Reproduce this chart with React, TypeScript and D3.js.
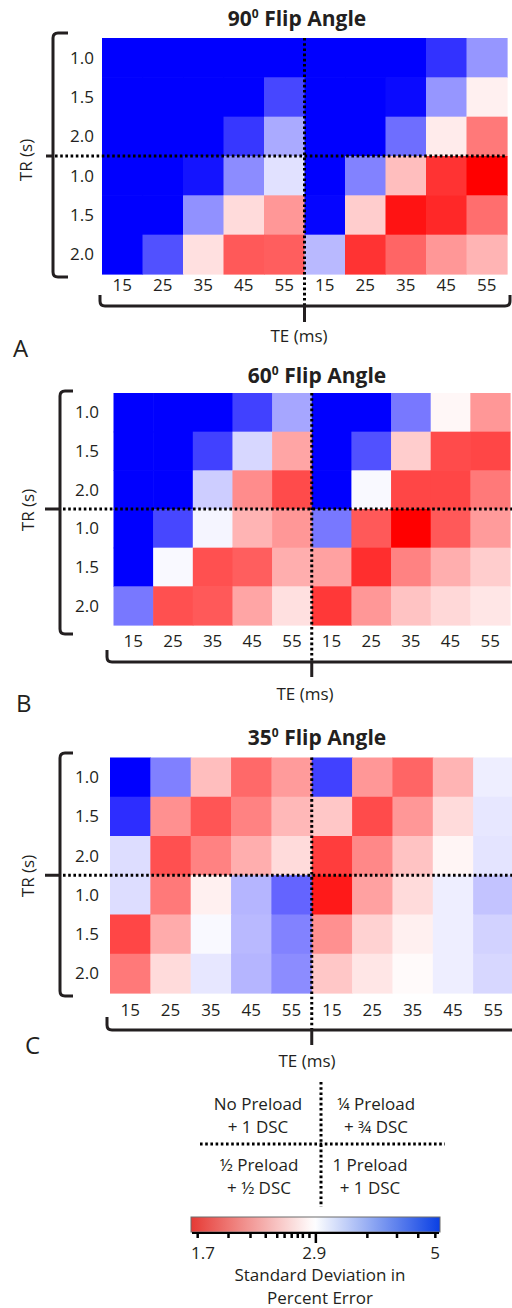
import React from "react";
import * as d3 from "d3";

// Axis categories
const TE_MS = [15, 25, 35, 45, 55];
const TR_S = ["1.0", "1.5", "2.0"];

// Standard deviation in percent error.
// Rows: TR 1.0 / 1.5 / 2.0 for the upper protocol pair, then TR 1.0 / 1.5 / 2.0 for the lower pair.
// Columns: TE 15..55 for the left protocol, then TE 15..55 for the right protocol.
const FLIP_90 = [
  [5.0, 5.0, 5.0, 5.0, 5.0, 5.0, 5.0, 5.0, 4.49, 3.63],
  [5.0, 5.0, 5.0, 5.0, 4.3, 5.0, 5.0, 4.89, 3.63, 2.81],
  [5.0, 5.0, 5.0, 4.45, 3.48, 5.0, 5.0, 3.95, 2.78, 2.19],
  [5.0, 5.0, 4.79, 3.71, 3.09, 5.0, 3.79, 2.53, 1.89, 1.7],
  [5.0, 5.0, 3.67, 2.69, 2.33, 4.95, 2.61, 1.77, 1.85, 2.14],
  [5.0, 4.21, 2.72, 2.05, 2.07, 3.37, 1.89, 2.1, 2.33, 2.48],
];

const FLIP_60 = [
  [5.0, 5.0, 5.0, 4.35, 3.51, 5.0, 5.0, 3.87, 2.85, 2.33],
  [5.0, 5.0, 4.35, 3.16, 2.4, 5.0, 4.21, 2.61, 1.99, 1.97],
  [5.0, 5.0, 3.23, 2.28, 1.99, 5.0, 2.94, 1.97, 1.97, 2.19],
  [5.0, 4.3, 2.96, 2.48, 2.33, 3.87, 2.05, 1.7, 2.05, 2.35],
  [5.0, 2.94, 2.01, 2.07, 2.45, 2.38, 1.87, 2.23, 2.45, 2.61],
  [3.87, 2.01, 2.05, 2.4, 2.72, 1.91, 2.33, 2.56, 2.67, 2.75],
];

const FLIP_35 = [
  [5.0, 3.8, 2.53, 2.12, 2.35, 4.35, 2.33, 2.1, 2.48, 3.01],
  [4.54, 2.3, 2.03, 2.23, 2.5, 2.58, 1.99, 2.33, 2.69, 3.05],
  [3.12, 2.01, 2.23, 2.45, 2.69, 1.93, 2.26, 2.56, 2.84, 3.07],
  [3.12, 2.19, 2.81, 3.4, 4.04, 1.79, 2.38, 2.69, 3.01, 3.3],
  [1.97, 2.43, 2.94, 3.37, 3.79, 2.3, 2.64, 2.81, 3.01, 3.19],
  [2.19, 2.69, 3.05, 3.4, 3.71, 2.58, 2.75, 2.87, 3.01, 3.16],
];

const FLIP_ANGLES = ["90", "60", "35"];
const PANEL_LETTERS = ["A", "B", "C"];
const PANEL_VALUES = [FLIP_90, FLIP_60, FLIP_35];

const QUADRANT_LABELS = [
  ["No Preload", "+ 1 DSC"],
  ["\u00BC Preload", "+ \u00BE DSC"],
  ["\u00BD Preload", "+ \u00BD DSC"],
  ["1 Preload", "+ 1 DSC"],
];

const SCALE_DOMAIN = [1.7, 2.9, 5];
const SCALE_TICKS = [1.75, 2.0, 2.2, 2.35, 2.47, 2.55, 2.63, 2.7, 2.76, 2.84, 3.65, 4.15, 4.55, 4.9];
const SCALE_MAJOR_TICK = 2.92;
const SCALE_LABELS = [1.7, 2.9, 5];
const SCALE_TITLE = ["Standard Deviation in", "Percent Error"];

// ---- layout ----
const W = 512;
const H = 1308;
const FONT = "'Open Sans', 'Noto Sans', sans-serif";
const INK = "#231f20";

const PANEL_LAYOUT = [
  {
    x0: 102, x1: 507, y0: 38, y1: 274,
    titleX: 297, titleY: 26, yLabelX: 94, xLabelY: 285,
    bx: 53, bTop: 33, bBottom: 277, serifX: 68, notchX: 46,
    hStart: 55, hEnd: 507,
    braceY: 306, braceLeft: 100, braceRight: 510, braceRise: 11, braceTickEnd: 322,
    teX: 299, teY: 336, trX: 26, trY: 160, letterX: 13, letterY: 357,
  },
  {
    x0: 113.5, x1: 510, y0: 393, y1: 625,
    titleX: 317, titleY: 383, yLabelX: 99, xLabelY: 641,
    bx: 60, bTop: 391, bBottom: 634, serifX: 73, notchX: 45,
    hStart: 63, hEnd: 512,
    braceY: 662, braceLeft: 107, braceRight: 540, braceRise: 12, braceTickEnd: 677,
    teX: 305, teY: 694, trX: 28, trY: 510, letterX: 16, letterY: 712,
  },
  {
    x0: 110, x1: 513.5, y0: 757.5, y1: 993,
    titleX: 317, titleY: 745, yLabelX: 99, xLabelY: 1010,
    bx: 60, bTop: 753, bBottom: 996, serifX: 73, notchX: 45,
    hStart: 63, hEnd: 512,
    braceY: 1030, braceLeft: 107, braceRight: 540, braceRise: 13, braceTickEnd: 1045,
    teX: 307, teY: 1061, trX: 28, trY: 876, letterX: 25, letterY: 1054,
  },
];

const DOT = { stroke: "#000", strokeWidth: 3, strokeDasharray: "2.6 2.6" };

// ---- colour ----
const halfInterp = (lo: string, mid: string, hi: string) => (t: number) =>
  t < 0.5 ? d3.interpolateRgb(lo, mid)(t * 2) : d3.interpolateRgb(mid, hi)((t - 0.5) * 2);

const cellColor = d3
  .scaleDivergingLog<string>()
  .domain(SCALE_DOMAIN)
  .interpolator(halfInterp("#ff0000", "#ffffff", "#0000ff"))
  .clamp(true);

const barColor = d3
  .scaleDivergingLog<string>()
  .domain(SCALE_DOMAIN)
  .interpolator(halfInterp("#e63a35", "#ffffff", "#0a3fe4"))
  .clamp(true);

const BAR = { x0: 191, x1: 440, y0: 1217, y1: 1232 };
const barPos = d3.scaleLog().domain([SCALE_DOMAIN[0], SCALE_DOMAIN[2]]).range([BAR.x0, BAR.x1]);

function Panel({ idx }: { idx: number }) {
  const L = PANEL_LAYOUT[idx];
  const values = PANEL_VALUES[idx];
  const cols = d3.range(TE_MS.length * 2);
  const rows = d3.range(TR_S.length * 2);
  const x = d3.scaleBand<number>().domain(cols).range([L.x0, L.x1]);
  const y = d3.scaleBand<number>().domain(rows).range([L.y0, L.y1]);
  const midX = x(TE_MS.length)!;
  const midY = y(TR_S.length)!;
  const r = 5;

  const leftBracket =
    `M${L.serifX},${L.bTop} H${L.bx + r} Q${L.bx},${L.bTop} ${L.bx},${L.bTop + r} ` +
    `V${L.bBottom - r} Q${L.bx},${L.bBottom} ${L.bx + r},${L.bBottom} H${L.serifX} ` +
    `M${L.bx},${midY} H${L.notchX}`;
  const bottomBrace =
    `M${L.braceLeft},${L.braceY - L.braceRise} V${L.braceY - r} Q${L.braceLeft},${L.braceY} ${L.braceLeft + r},${L.braceY} ` +
    `H${L.braceRight - r} Q${L.braceRight},${L.braceY} ${L.braceRight},${L.braceY - r} V${L.braceY - L.braceRise} ` +
    `M${midX},${L.braceY} V${L.braceTickEnd}`;

  return (
    <g>
      <text x={L.titleX} y={L.titleY} textAnchor="middle" fontWeight={700} fontSize={21} fill={INK}>
        <tspan>{FLIP_ANGLES[idx]}</tspan>
        <tspan fontSize={12} dy={-8}>0</tspan>
        <tspan dy={8}>{" Flip Angle"}</tspan>
      </text>

      {rows.map((ri) =>
        cols.map((ci) => (
          <rect
            key={`${ri}-${ci}`}
            x={x(ci)}
            y={y(ri)}
            width={x.bandwidth() + 0.6}
            height={y.bandwidth() + 0.6}
            fill={cellColor(values[ri][ci])}
          />
        ))
      )}

      {rows.map((ri) => (
        <text
          key={`tr${ri}`}
          x={L.yLabelX}
          y={y(ri)! + y.bandwidth() / 2}
          dy="0.36em"
          textAnchor="end"
          fontSize={17}
          fill={INK}
        >
          {TR_S[ri % TR_S.length]}
        </text>
      ))}

      {cols.map((ci) => (
        <text
          key={`te${ci}`}
          x={x(ci)! + x.bandwidth() / 2}
          y={L.xLabelY}
          dy="0.36em"
          textAnchor="middle"
          fontSize={17}
          fill={INK}
        >
          {TE_MS[ci % TE_MS.length]}
        </text>
      ))}

      <line x1={L.hStart} x2={L.hEnd} y1={midY} y2={midY} {...DOT} />
      <line x1={midX} x2={midX} y1={L.y0} y2={L.braceY} {...DOT} />

      <path d={leftBracket} fill="none" stroke={INK} strokeWidth={3} />
      <path d={bottomBrace} fill="none" stroke={INK} strokeWidth={3} />

      <text
        transform={`translate(${L.trX},${L.trY}) rotate(-90)`}
        dy="0.36em"
        textAnchor="middle"
        fontSize={17}
        fill={INK}
      >
        TR (s)
      </text>
      <text x={L.teX} y={L.teY} dy="0.36em" textAnchor="middle" fontSize={17} fill={INK}>
        TE (ms)
      </text>
      <text x={L.letterX} y={L.letterY} fontSize={24} fill={INK}>
        {PANEL_LETTERS[idx]}
      </text>
    </g>
  );
}

function Legend() {
  const cx = 321;
  const cy = 1144;
  const quadPos = [
    { x: 258, y: 1104 },
    { x: 376, y: 1104 },
    { x: 259, y: 1165 },
    { x: 370, y: 1165 },
  ];
  const stops = d3.range(0, 41).map((i) => {
    const t = i / 40;
    const v = barPos.invert(BAR.x0 + t * (BAR.x1 - BAR.x0));
    return { offset: t, color: barColor(v) };
  });
  return (
    <g>
      <line x1={cx} x2={cx} y1={1082} y2={1207} {...DOT} />
      <line x1={200} x2={445} y1={cy} y2={cy} {...DOT} />
      {QUADRANT_LABELS.map((lines, i) => (
        <text key={i} x={quadPos[i].x} y={quadPos[i].y} textAnchor="middle" fontSize={17} fill={INK}>
          <tspan x={quadPos[i].x} dy="0.36em">{lines[0]}</tspan>
          <tspan x={quadPos[i].x} dy={23}>{lines[1]}</tspan>
        </text>
      ))}

      <defs>
        <linearGradient id="sdGradient" x1="0" x2="1" y1="0" y2="0">
          {stops.map((s, i) => (
            <stop key={i} offset={s.offset} stopColor={s.color} />
          ))}
        </linearGradient>
      </defs>
      <rect
        x={BAR.x0}
        y={BAR.y0}
        width={BAR.x1 - BAR.x0}
        height={BAR.y1 - BAR.y0}
        fill="url(#sdGradient)"
        stroke="#6d6d6d"
        strokeWidth={1}
      />
      <line x1={BAR.x0 + 1} x2={BAR.x1 - 1} y1={BAR.y1 + 1} y2={BAR.y1 + 1} stroke="#000" strokeWidth={2} />
      {SCALE_TICKS.map((v) => (
        <line key={v} x1={barPos(v)} x2={barPos(v)} y1={BAR.y1} y2={BAR.y1 + 6} stroke="#000" strokeWidth={2.5} />
      ))}
      <line
        x1={barPos(SCALE_MAJOR_TICK)}
        x2={barPos(SCALE_MAJOR_TICK)}
        y1={BAR.y1}
        y2={BAR.y1 + 11}
        stroke="#000"
        strokeWidth={2.5}
      />
      {SCALE_LABELS.map((v, i) => (
        <text
          key={v}
          x={barPos(v)}
          y={1253}
          dy="0.36em"
          textAnchor={i === 0 ? "start" : i === SCALE_LABELS.length - 1 ? "end" : "middle"}
          fontSize={17}
          fill={INK}
        >
          {v}
        </text>
      ))}
      {SCALE_TITLE.map((t, i) => (
        <text key={t} x={320} y={1275 + i * 23} dy="0.36em" textAnchor="middle" fontSize={17} fill={INK}>
          {t}
        </text>
      ))}
    </g>
  );
}

export default function App() {
  return (
    <svg
      width={W}
      height={H}
      viewBox={`0 0 ${W} ${H}`}
      style={{ position: "absolute", left: 0, top: 0, background: "#fff", display: "block" }}
      fontFamily={FONT}
    >
      <rect width={W} height={H} fill="#fff" />
      {PANEL_LAYOUT.map((_, i) => (
        <Panel key={i} idx={i} />
      ))}
      <Legend />
    </svg>
  );
}
